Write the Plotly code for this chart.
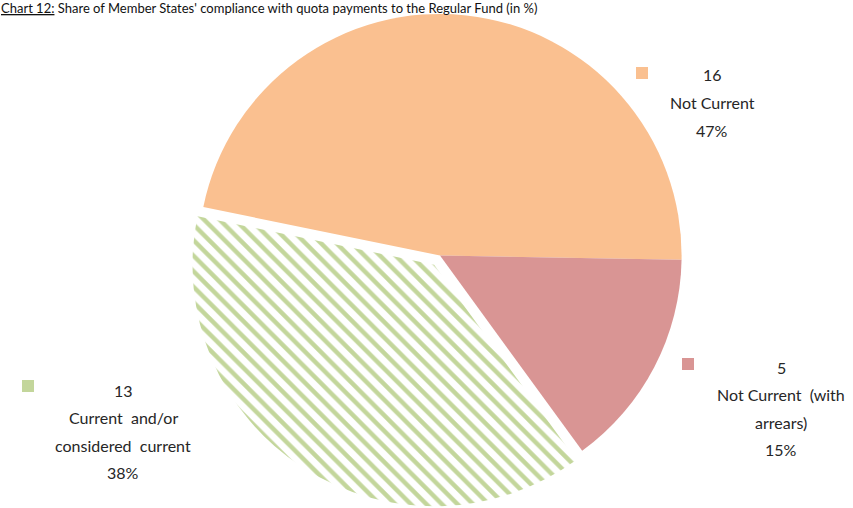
import plotly.graph_objects as go

# ---- data ----
labels = ["Not Current", "Not Current (with arrears)", "Current and/or considered current"]
label_lines = [["Not Current"], ["Not Current  (with", "arrears)"], ["Current  and/or", "considered  current"]]
values = [16, 5, 13]
colors = ["#FAC090", "#D99594", "#FFFFFF"]
title_text = "<u>Chart 12:</u> Share of Member States' compliance with quota payments to the Regular Fund (in %)"

total = sum(values)
pcts = [round(v / total * 100) for v in values]

W, H = 853, 508

fig = go.Figure()
fig.add_trace(go.Pie(
    labels=labels,
    values=values,
    sort=False,
    direction="clockwise",
    rotation=91 - 360 * values[0] / total,
    pull=[0, 0, 0.045],
    marker=dict(
        colors=colors,
        line=dict(width=0),
        pattern=dict(
            shape=["", "", "\\"],
            fgcolor=["#FAC090", "#D99594", "#C3D69B"],
            bgcolor=["#FAC090", "#D99594", "#FFFFFF"],
            size=11,
            solidity=0.4,
        ),
    ),
    textinfo="none",
    hoverinfo="label+value+percent",
    domain=dict(x=[0.0, 1.0], y=[0.0, 0.994]),
    showlegend=False,
))
# center x adjust: make domain centered at x=440
cx = 440
half = min(cx, W - cx)
fig.data[0].domain.x = [(cx - half) / W, (cx + half) / W]

# label placement (pixel positions of first text line, legend key)
label_pos = [(712, 75, 642, 73), (781, 367, 688, 364), (123, 390, 28, 386)]
key_colors = ["#FAC090", "#D99594", "#C3D69B"]
line_gap = 27.5

annotations = []
shapes = []
font = dict(family="Lato, Open Sans, sans-serif", size=16, color="#262626")
for i in range(len(values)):
    tx, ty, kx, ky = label_pos[i]
    lines = [str(values[i])] + label_lines[i] + [f"{pcts[i]}%"]
    for j, ln in enumerate(lines):
        y = ty + j * line_gap
        annotations.append(dict(
            x=tx / W, y=1 - y / H, xref="paper", yref="paper",
            text=ln, showarrow=False, xanchor="center", yanchor="middle",
            font=font,
        ))
    s = 6
    shapes.append(dict(
        type="rect", xref="paper", yref="paper",
        x0=(kx - s) / W, x1=(kx + s) / W,
        y0=1 - (ky + s) / H, y1=1 - (ky - s) / H,
        fillcolor=key_colors[i], line=dict(width=0),
    ))

annotations.append(dict(
    x=0, y=1, xref="paper", yref="paper", text=title_text,
    showarrow=False, xanchor="left", yanchor="top", yshift=1, borderpad=0,
    font=dict(family="Lato, Open Sans, sans-serif", size=13, color="#111111"),
))

fig.update_layout(
    width=W, height=H,
    margin=dict(l=0, r=0, t=0, b=0),
    paper_bgcolor="white", plot_bgcolor="white",
    annotations=annotations, shapes=shapes,
    showlegend=False,
)

fig.write_html("out.html")
